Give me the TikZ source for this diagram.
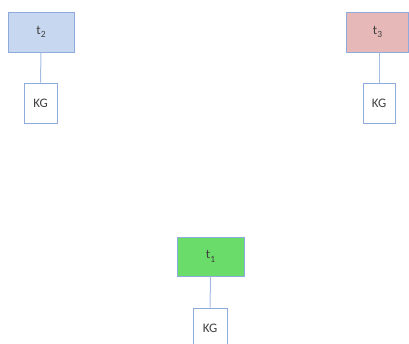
\documentclass[tikz,border=0pt]{standalone}
\usepackage{fontspec}
\setmainfont{Carlito}
\definecolor{edgeblue}{HTML}{8FAADC}
\definecolor{linkblue}{HTML}{A4BCE3}
\definecolor{fillblue}{HTML}{C6D7EF}
\definecolor{fillred}{HTML}{E6B8B7}
\definecolor{fillgreen}{HTML}{6ADC6A}
\definecolor{labelgray}{HTML}{404040}
\tikzset{
  tbox/.style={draw=edgeblue, line width=0.8pt, minimum width=66pt, minimum height=40pt, inner sep=0pt, text=labelgray, font=\fontsize{13}{15}\selectfont},
  kgbox/.style={draw=edgeblue, line width=0.8pt, fill=white, minimum width=33pt, minimum height=40pt, inner sep=0pt, text=labelgray, font=\fontsize{13}{15}\selectfont},
  link/.style={draw=linkblue, line width=1pt}
}
\newcommand{\tsub}[1]{t\raisebox{-0.25em}{\fontsize{9.5}{10}\selectfont #1}}
\begin{document}
\begin{tikzpicture}[x=1pt, y=-1pt]
\useasboundingbox (0,0) rectangle (409,343);
\begin{scope}
\clip (0,0) rectangle (409,343);
% top-left task with its knowledge graph
\node[tbox, fill=fillblue] (t2) at (41,32) {\tsub{2}};
\node[kgbox] (kg2) at (40.5,103) {KG};
% top-right task
\node[tbox, fill=fillred, minimum width=62pt] (t3) at (377.5,32) {\tsub{3}};
\node[kgbox, minimum width=32pt] (kg3) at (379,103) {KG};
% bottom task
\node[tbox, fill=fillgreen, minimum width=67pt, minimum height=39pt] (t1) at (210.5,256.5) {\tsub{1}};
\node[kgbox, minimum width=34pt] (kg1) at (210,328) {KG};
\draw[link] (t2) -- (kg2);
\draw[link] (t3.south -| kg3) -- (kg3);
\draw[link] (t1) -- (kg1);
\end{scope}
\end{tikzpicture}
\end{document}
